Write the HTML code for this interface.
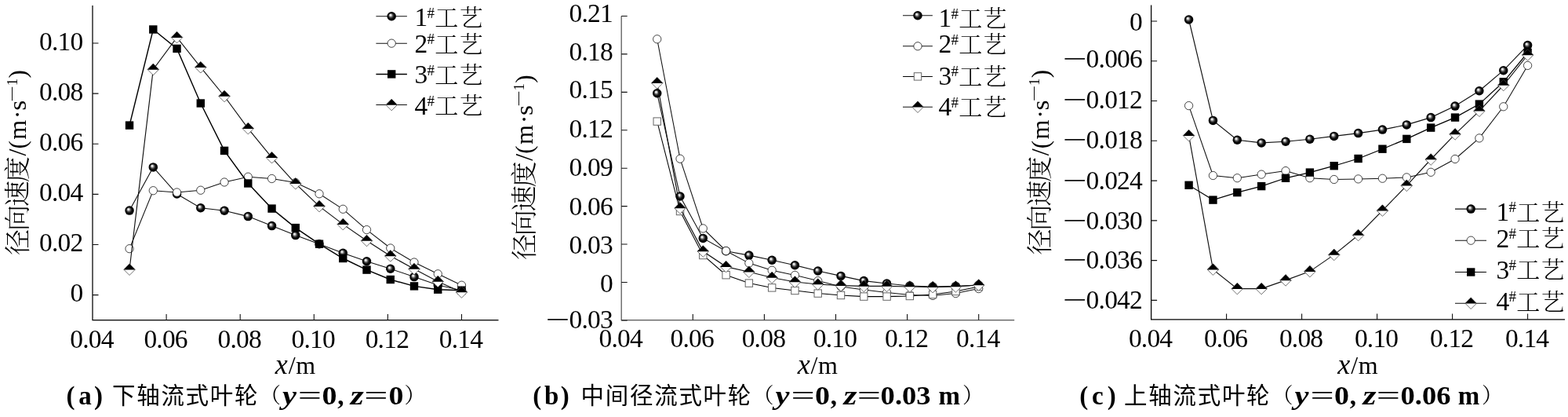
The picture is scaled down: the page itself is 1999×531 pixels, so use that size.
<!DOCTYPE html>
<html lang="zh"><head><meta charset="utf-8"><title>径向速度</title>
<style>
html,body{margin:0;padding:0;background:#fff}
svg{display:block}
.t{font-family:"Liberation Serif","Noto Serif CJK SC",serif;font-size:33.5px;fill:#000;font-style:normal;letter-spacing:-0.8px}
.u{font-family:"Liberation Serif","Noto Serif CJK SC",serif;font-size:31px;fill:#000}
.yl{font-family:"Liberation Serif","Noto Serif CJK SC",serif;font-size:33px;fill:#000;font-weight:300;letter-spacing:-2.1px}
.sup{font-family:"Liberation Serif","Noto Serif CJK SC",serif;font-size:19px;fill:#000;font-weight:400;letter-spacing:0}
.lg{font-family:"Liberation Serif","Noto Serif CJK SC",serif;font-size:30px;font-weight:300;letter-spacing:1.4px}
.cb{font-family:"Liberation Serif","Noto Serif CJK SC",serif;font-weight:700;font-size:33px}
.ce{font-family:"Liberation Serif","Noto Serif CJK SC",serif;font-weight:400;font-size:33px}
.ci{font-family:"Liberation Serif","Noto Serif CJK SC",serif;font-weight:700;font-style:italic;font-size:34px}
.cc{font-family:"Liberation Sans","Noto Sans CJK SC",sans-serif;font-weight:400;font-size:29.5px;letter-spacing:1.7px}
.cp{font-family:"Noto Serif CJK SC",serif;font-weight:400;font-size:27px}
</style></head><body>
<svg width="1999" height="531" viewBox="0 0 1999 531">
<defs><radialGradient id="sph" cx="0.5" cy="0.5" r="0.5" fx="0.36" fy="0.34">
<stop offset="0" stop-color="#fff"/><stop offset="0.16" stop-color="#e4e4e4"/><stop offset="0.42" stop-color="#555"/><stop offset="0.66" stop-color="#080808"/><stop offset="1" stop-color="#000"/></radialGradient></defs>
<rect width="1999" height="531" fill="#fff"/>
<g>
<path d="M118 7V407.6H635.5" fill="none" stroke="#000" stroke-width="1.25"/>
<path d="M212.1 407.6v-7.5M306.2 407.6v-7.5M400.3 407.6v-7.5M494.4 407.6v-7.5M588.5 407.6v-7.5M118 375.6h7.5M118 311.48h7.5M118 247.36h7.5M118 183.24h7.5M118 119.12h7.5M118 55h7.5" fill="none" stroke="#111" stroke-width="1.1"/>
<text x="117" y="443.0" text-anchor="middle" class="t">0.04</text>
<text x="211.1" y="443.0" text-anchor="middle" class="t">0.06</text>
<text x="305.2" y="443.0" text-anchor="middle" class="t">0.08</text>
<text x="399.3" y="443.0" text-anchor="middle" class="t">0.10</text>
<text x="493.4" y="443.0" text-anchor="middle" class="t">0.12</text>
<text x="587.5" y="443.0" text-anchor="middle" class="t">0.14</text>
<text x="105.5" y="384" text-anchor="end" class="t">0</text>
<text x="105.5" y="320.1" text-anchor="end" class="t">0.02</text>
<text x="105.5" y="256.1" text-anchor="end" class="t">0.04</text>
<text x="105.5" y="192.1" text-anchor="end" class="t">0.06</text>
<text x="105.5" y="128.2" text-anchor="end" class="t">0.08</text>
<text x="105.5" y="64.3" text-anchor="end" class="t">0.10</text>
<text y="476" class="t" style="letter-spacing:0"><tspan x="350.75" font-style="italic" font-size="36">x</tspan><tspan x="367.65" font-size="32">/</tspan><tspan x="377.15" font-size="32">m</tspan></text>
<g transform="translate(33.3 324) rotate(-90)"><text x="-0.9" y="0.5" class="yl">径向速度</text><text x="125.4" y="0" class="u" style="font-size:32px">/</text><text x="134.5" y="0" class="u">(</text><text x="146.3" y="0" class="u" style="font-size:32px">m</text><text x="173.1" y="0" class="u">·</text><text x="183.3" y="0" class="u" textLength="13" lengthAdjust="spacingAndGlyphs">s</text><text x="194.1" y="-11.5" class="sup" textLength="21" lengthAdjust="spacingAndGlyphs">−</text><text x="214.7" y="-11.5" class="sup">1</text><text x="224.5" y="0" class="u">)</text></g>
<polyline points="165.05,268.1 195.3,212.9 225.54,247 255.79,264.8 286.04,268.3 316.28,275.6 346.53,287.6 376.77,299.6 407.02,310.7 437.27,322.2 467.51,332.8 497.76,342.3 528.01,352.6 558.25,363 588.5,369.7" fill="none" stroke="#111" stroke-width="1.1"/>
<circle cx="165.05" cy="268.1" r="5.75" fill="url(#sph)"/><circle cx="195.3" cy="212.9" r="5.75" fill="url(#sph)"/><circle cx="225.54" cy="247" r="5.75" fill="url(#sph)"/><circle cx="255.79" cy="264.8" r="5.75" fill="url(#sph)"/><circle cx="286.04" cy="268.3" r="5.75" fill="url(#sph)"/><circle cx="316.28" cy="275.6" r="5.75" fill="url(#sph)"/><circle cx="346.53" cy="287.6" r="5.75" fill="url(#sph)"/><circle cx="376.77" cy="299.6" r="5.75" fill="url(#sph)"/><circle cx="407.02" cy="310.7" r="5.75" fill="url(#sph)"/><circle cx="437.27" cy="322.2" r="5.75" fill="url(#sph)"/><circle cx="467.51" cy="332.8" r="5.75" fill="url(#sph)"/><circle cx="497.76" cy="342.3" r="5.75" fill="url(#sph)"/><circle cx="528.01" cy="352.6" r="5.75" fill="url(#sph)"/><circle cx="558.25" cy="363" r="5.75" fill="url(#sph)"/><circle cx="588.5" cy="369.7" r="5.75" fill="url(#sph)"/>
<polyline points="165.05,316.7 195.3,242.7 225.54,245 255.79,242.2 286.04,232 316.28,225.2 346.53,227.5 376.77,232.5 407.02,246.8 437.27,266.3 467.51,292.6 497.76,316 528.01,334 558.25,348.8 588.5,363.2" fill="none" stroke="#111" stroke-width="1.05"/>
<circle cx="165.05" cy="316.7" r="5.15" fill="#fff" stroke="#111" stroke-width="0.78"/><circle cx="195.3" cy="242.7" r="5.15" fill="#fff" stroke="#111" stroke-width="0.78"/><circle cx="225.54" cy="245" r="5.15" fill="#fff" stroke="#111" stroke-width="0.78"/><circle cx="255.79" cy="242.2" r="5.15" fill="#fff" stroke="#111" stroke-width="0.78"/><circle cx="286.04" cy="232" r="5.15" fill="#fff" stroke="#111" stroke-width="0.78"/><circle cx="316.28" cy="225.2" r="5.15" fill="#fff" stroke="#111" stroke-width="0.78"/><circle cx="346.53" cy="227.5" r="5.15" fill="#fff" stroke="#111" stroke-width="0.78"/><circle cx="376.77" cy="232.5" r="5.15" fill="#fff" stroke="#111" stroke-width="0.78"/><circle cx="407.02" cy="246.8" r="5.15" fill="#fff" stroke="#111" stroke-width="0.78"/><circle cx="437.27" cy="266.3" r="5.15" fill="#fff" stroke="#111" stroke-width="0.78"/><circle cx="467.51" cy="292.6" r="5.15" fill="#fff" stroke="#111" stroke-width="0.78"/><circle cx="497.76" cy="316" r="5.15" fill="#fff" stroke="#111" stroke-width="0.78"/><circle cx="528.01" cy="334" r="5.15" fill="#fff" stroke="#111" stroke-width="0.78"/><circle cx="558.25" cy="348.8" r="5.15" fill="#fff" stroke="#111" stroke-width="0.78"/><circle cx="588.5" cy="363.2" r="5.15" fill="#fff" stroke="#111" stroke-width="0.78"/>
<polyline points="165.05,159.6 195.3,37.5 225.54,61.9 255.79,131.5 286.04,191.9 316.28,233.5 346.53,265.6 376.77,290.1 407.02,310.7 437.27,329 467.51,343.6 497.76,356 528.01,364.4 558.25,368.7 588.5,369.7" fill="none" stroke="#000" stroke-width="1.45"/>
<rect x="159.85" y="154.4" width="10.4" height="10.4" fill="#000"/><rect x="190.1" y="32.3" width="10.4" height="10.4" fill="#000"/><rect x="220.34" y="56.7" width="10.4" height="10.4" fill="#000"/><rect x="250.59" y="126.3" width="10.4" height="10.4" fill="#000"/><rect x="280.84" y="186.7" width="10.4" height="10.4" fill="#000"/><rect x="311.08" y="228.3" width="10.4" height="10.4" fill="#000"/><rect x="341.33" y="260.4" width="10.4" height="10.4" fill="#000"/><rect x="371.57" y="284.9" width="10.4" height="10.4" fill="#000"/><rect x="401.82" y="305.5" width="10.4" height="10.4" fill="#000"/><rect x="432.07" y="323.8" width="10.4" height="10.4" fill="#000"/><rect x="462.31" y="338.4" width="10.4" height="10.4" fill="#000"/><rect x="492.56" y="350.8" width="10.4" height="10.4" fill="#000"/><rect x="522.81" y="359.2" width="10.4" height="10.4" fill="#000"/><rect x="553.05" y="363.5" width="10.4" height="10.4" fill="#000"/><rect x="583.3" y="364.5" width="10.4" height="10.4" fill="#000"/>
<polyline points="165.05,343.2 195.3,88.4 225.54,47.6 255.79,85.7 286.04,122.5 316.28,163.6 346.53,200.7 376.77,233.8 407.02,262.6 437.27,285.6 467.51,306.5 497.76,325.9 528.01,342.5 558.25,358.5 588.5,372" fill="none" stroke="#111" stroke-width="1.15"/>
<path d="M157.75 343.2L165.05 335.9L172.35 343.2L165.05 350.5Z" fill="#fff" stroke="#222" stroke-width="0.65"/><path d="M157.75 343.5L165.05 335.9L172.35 343.5Z" fill="#000"/><path d="M188 88.4L195.3 81.1L202.6 88.4L195.3 95.7Z" fill="#fff" stroke="#222" stroke-width="0.65"/><path d="M188 88.7L195.3 81.1L202.6 88.7Z" fill="#000"/><path d="M218.24 47.6L225.54 40.3L232.84 47.6L225.54 54.9Z" fill="#fff" stroke="#222" stroke-width="0.65"/><path d="M218.24 47.9L225.54 40.3L232.84 47.9Z" fill="#000"/><path d="M248.49 85.7L255.79 78.4L263.09 85.7L255.79 93Z" fill="#fff" stroke="#222" stroke-width="0.65"/><path d="M248.49 86L255.79 78.4L263.09 86Z" fill="#000"/><path d="M278.74 122.5L286.04 115.2L293.34 122.5L286.04 129.8Z" fill="#fff" stroke="#222" stroke-width="0.65"/><path d="M278.74 122.8L286.04 115.2L293.34 122.8Z" fill="#000"/><path d="M308.98 163.6L316.28 156.3L323.58 163.6L316.28 170.9Z" fill="#fff" stroke="#222" stroke-width="0.65"/><path d="M308.98 163.9L316.28 156.3L323.58 163.9Z" fill="#000"/><path d="M339.23 200.7L346.53 193.4L353.83 200.7L346.53 208Z" fill="#fff" stroke="#222" stroke-width="0.65"/><path d="M339.23 201L346.53 193.4L353.83 201Z" fill="#000"/><path d="M369.47 233.8L376.77 226.5L384.07 233.8L376.77 241.1Z" fill="#fff" stroke="#222" stroke-width="0.65"/><path d="M369.47 234.1L376.77 226.5L384.07 234.1Z" fill="#000"/><path d="M399.72 262.6L407.02 255.3L414.32 262.6L407.02 269.9Z" fill="#fff" stroke="#222" stroke-width="0.65"/><path d="M399.72 262.9L407.02 255.3L414.32 262.9Z" fill="#000"/><path d="M429.97 285.6L437.27 278.3L444.57 285.6L437.27 292.9Z" fill="#fff" stroke="#222" stroke-width="0.65"/><path d="M429.97 285.9L437.27 278.3L444.57 285.9Z" fill="#000"/><path d="M460.21 306.5L467.51 299.2L474.81 306.5L467.51 313.8Z" fill="#fff" stroke="#222" stroke-width="0.65"/><path d="M460.21 306.8L467.51 299.2L474.81 306.8Z" fill="#000"/><path d="M490.46 325.9L497.76 318.6L505.06 325.9L497.76 333.2Z" fill="#fff" stroke="#222" stroke-width="0.65"/><path d="M490.46 326.2L497.76 318.6L505.06 326.2Z" fill="#000"/><path d="M520.71 342.5L528.01 335.2L535.31 342.5L528.01 349.8Z" fill="#fff" stroke="#222" stroke-width="0.65"/><path d="M520.71 342.8L528.01 335.2L535.31 342.8Z" fill="#000"/><path d="M550.95 358.5L558.25 351.2L565.55 358.5L558.25 365.8Z" fill="#fff" stroke="#222" stroke-width="0.65"/><path d="M550.95 358.8L558.25 351.2L565.55 358.8Z" fill="#000"/><path d="M581.2 372L588.5 364.7L595.8 372L588.5 379.3Z" fill="#fff" stroke="#222" stroke-width="0.65"/><path d="M581.2 372.3L588.5 364.7L595.8 372.3Z" fill="#000"/>
<path d="M479.4 20.8H518.9" stroke="#111" stroke-width="1.1"/>
<circle cx="499.2" cy="20.8" r="5.75" fill="url(#sph)"/>
<text y="33.2" class="t"><tspan x="528.5">1</tspan><tspan class="sup" x="544.6" dy="-10.5">#</tspan><tspan class="lg" x="554.3" dy="10.2">工艺</tspan></text>
<path d="M479.4 55.15H518.9" stroke="#111" stroke-width="1.05"/>
<circle cx="499.2" cy="55.15" r="5.15" fill="#fff" stroke="#111" stroke-width="0.78"/>
<text y="66.9" class="t"><tspan x="528.5">2</tspan><tspan class="sup" x="544.6" dy="-10.5">#</tspan><tspan class="lg" x="554.3" dy="10.2">工艺</tspan></text>
<path d="M479.4 94.4H518.9" stroke="#000" stroke-width="1.45"/>
<rect x="494" y="89.2" width="10.4" height="10.4" fill="#000"/>
<text y="106.4" class="t"><tspan x="528.5">3</tspan><tspan class="sup" x="544.6" dy="-10.5">#</tspan><tspan class="lg" x="554.3" dy="10.2">工艺</tspan></text>
<path d="M479.4 133.5H518.9" stroke="#111" stroke-width="1.15"/>
<path d="M491.9 133.5L499.2 126.2L506.5 133.5L499.2 140.8Z" fill="#fff" stroke="#222" stroke-width="0.65"/><path d="M491.9 133.8L499.2 126.2L506.5 133.8Z" fill="#000"/>
<text y="145.7" class="t"><tspan x="528.5">4</tspan><tspan class="sup" x="544.6" dy="-10.5">#</tspan><tspan class="lg" x="554.3" dy="10.2">工艺</tspan></text>
</g>
<g>
<path d="M792.2 20.4V407.5H1293.2" fill="none" stroke="#555" stroke-width="1.25"/>
<path d="M883.3 407.5v-7.5M974.4 407.5v-7.5M1065.5 407.5v-7.5M1156.6 407.5v-7.5M1247.7 407.5v-7.5M792.2 407.94h7.5M792.2 359.5h7.5M792.2 311.06h7.5M792.2 262.63h7.5M792.2 214.19h7.5M792.2 165.76h7.5M792.2 117.33h7.5M792.2 68.89h7.5M792.2 20.46h7.5" fill="none" stroke="#111" stroke-width="1.1"/>
<text x="791.2" y="442.1" text-anchor="middle" class="t">0.04</text>
<text x="882.3" y="442.1" text-anchor="middle" class="t">0.06</text>
<text x="973.4" y="442.1" text-anchor="middle" class="t">0.08</text>
<text x="1064.5" y="442.1" text-anchor="middle" class="t">0.10</text>
<text x="1155.6" y="442.1" text-anchor="middle" class="t">0.12</text>
<text x="1246.7" y="442.1" text-anchor="middle" class="t">0.14</text>
<text x="781" y="418.2" text-anchor="end" class="t">0.03</text>
<text x="695.7" y="418.2" class="t" textLength="29.7" lengthAdjust="spacingAndGlyphs">−</text>
<text x="781" y="371.8" text-anchor="end" class="t">0</text>
<text x="781" y="322.9" text-anchor="end" class="t">0.03</text>
<text x="781" y="273.5" text-anchor="end" class="t">0.06</text>
<text x="781" y="224.1" text-anchor="end" class="t">0.09</text>
<text x="781" y="174.7" text-anchor="end" class="t">0.12</text>
<text x="781" y="125.3" text-anchor="end" class="t">0.15</text>
<text x="781" y="76.9" text-anchor="end" class="t">0.18</text>
<text x="781" y="27.6" text-anchor="end" class="t">0.21</text>
<text y="476" class="t" style="letter-spacing:0"><tspan x="1016.7" font-style="italic" font-size="36">x</tspan><tspan x="1033.6" font-size="32">/</tspan><tspan x="1043.1" font-size="32">m</tspan></text>
<g transform="translate(679.3 330.2) rotate(-90)"><text x="-0.9" y="0.5" class="yl">径向速度</text><text x="125.4" y="0" class="u" style="font-size:32px">/</text><text x="134.5" y="0" class="u">(</text><text x="146.3" y="0" class="u" style="font-size:32px">m</text><text x="173.1" y="0" class="u">·</text><text x="183.3" y="0" class="u" textLength="13" lengthAdjust="spacingAndGlyphs">s</text><text x="194.1" y="-11.5" class="sup" textLength="21" lengthAdjust="spacingAndGlyphs">−</text><text x="214.7" y="-11.5" class="sup">1</text><text x="224.5" y="0" class="u">)</text></g>
<polyline points="837.75,118.8 867.03,250 896.31,303.4 925.6,319.8 954.88,325.1 984.16,331.3 1013.44,337.8 1042.73,345 1072.01,351.4 1101.29,357.6 1130.57,361 1159.85,364 1189.14,365 1218.42,364.4 1247.7,363" fill="none" stroke="#111" stroke-width="1.1"/>
<circle cx="837.75" cy="118.8" r="5.75" fill="url(#sph)"/><circle cx="867.03" cy="250" r="5.75" fill="url(#sph)"/><circle cx="896.31" cy="303.4" r="5.75" fill="url(#sph)"/><circle cx="925.6" cy="319.8" r="5.75" fill="url(#sph)"/><circle cx="954.88" cy="325.1" r="5.75" fill="url(#sph)"/><circle cx="984.16" cy="331.3" r="5.75" fill="url(#sph)"/><circle cx="1013.44" cy="337.8" r="5.75" fill="url(#sph)"/><circle cx="1042.73" cy="345" r="5.75" fill="url(#sph)"/><circle cx="1072.01" cy="351.4" r="5.75" fill="url(#sph)"/><circle cx="1101.29" cy="357.6" r="5.75" fill="url(#sph)"/><circle cx="1130.57" cy="361" r="5.75" fill="url(#sph)"/><circle cx="1159.85" cy="364" r="5.75" fill="url(#sph)"/><circle cx="1189.14" cy="365" r="5.75" fill="url(#sph)"/><circle cx="1218.42" cy="364.4" r="5.75" fill="url(#sph)"/><circle cx="1247.7" cy="363" r="5.75" fill="url(#sph)"/>
<polyline points="837.75,49.8 867.03,202.2 896.31,290.9 925.6,319.5 954.88,335.1 984.16,344.2 1013.44,350.4 1042.73,357.6 1072.01,365 1101.29,369 1130.57,372.4 1159.85,375.6 1189.14,376.4 1218.42,373.6 1247.7,367.6" fill="none" stroke="#111" stroke-width="1.05"/>
<circle cx="837.75" cy="49.8" r="5.15" fill="#fff" stroke="#111" stroke-width="0.78"/><circle cx="867.03" cy="202.2" r="5.15" fill="#fff" stroke="#111" stroke-width="0.78"/><circle cx="896.31" cy="290.9" r="5.15" fill="#fff" stroke="#111" stroke-width="0.78"/><circle cx="925.6" cy="319.5" r="5.15" fill="#fff" stroke="#111" stroke-width="0.78"/><circle cx="954.88" cy="335.1" r="5.15" fill="#fff" stroke="#111" stroke-width="0.78"/><circle cx="984.16" cy="344.2" r="5.15" fill="#fff" stroke="#111" stroke-width="0.78"/><circle cx="1013.44" cy="350.4" r="5.15" fill="#fff" stroke="#111" stroke-width="0.78"/><circle cx="1042.73" cy="357.6" r="5.15" fill="#fff" stroke="#111" stroke-width="0.78"/><circle cx="1072.01" cy="365" r="5.15" fill="#fff" stroke="#111" stroke-width="0.78"/><circle cx="1101.29" cy="369" r="5.15" fill="#fff" stroke="#111" stroke-width="0.78"/><circle cx="1130.57" cy="372.4" r="5.15" fill="#fff" stroke="#111" stroke-width="0.78"/><circle cx="1159.85" cy="375.6" r="5.15" fill="#fff" stroke="#111" stroke-width="0.78"/><circle cx="1189.14" cy="376.4" r="5.15" fill="#fff" stroke="#111" stroke-width="0.78"/><circle cx="1218.42" cy="373.6" r="5.15" fill="#fff" stroke="#111" stroke-width="0.78"/><circle cx="1247.7" cy="367.6" r="5.15" fill="#fff" stroke="#111" stroke-width="0.78"/>
<polyline points="837.75,154.6 867.03,269 896.31,325 925.6,350.2 954.88,360.6 984.16,366.4 1013.44,370 1042.73,373.6 1072.01,376 1101.29,377.6 1130.57,377.6 1159.85,377 1189.14,375 1218.42,371 1247.7,365" fill="none" stroke="#000" stroke-width="1.05"/>
<rect x="833.05" y="149.9" width="9.4" height="9.4" fill="#fff" stroke="#666" stroke-width="1"/><rect x="862.33" y="264.3" width="9.4" height="9.4" fill="#fff" stroke="#666" stroke-width="1"/><rect x="891.61" y="320.3" width="9.4" height="9.4" fill="#fff" stroke="#666" stroke-width="1"/><rect x="920.9" y="345.5" width="9.4" height="9.4" fill="#fff" stroke="#666" stroke-width="1"/><rect x="950.18" y="355.9" width="9.4" height="9.4" fill="#fff" stroke="#666" stroke-width="1"/><rect x="979.46" y="361.7" width="9.4" height="9.4" fill="#fff" stroke="#666" stroke-width="1"/><rect x="1008.74" y="365.3" width="9.4" height="9.4" fill="#fff" stroke="#666" stroke-width="1"/><rect x="1038.03" y="368.9" width="9.4" height="9.4" fill="#fff" stroke="#666" stroke-width="1"/><rect x="1067.31" y="371.3" width="9.4" height="9.4" fill="#fff" stroke="#666" stroke-width="1"/><rect x="1096.59" y="372.9" width="9.4" height="9.4" fill="#fff" stroke="#666" stroke-width="1"/><rect x="1125.87" y="372.9" width="9.4" height="9.4" fill="#fff" stroke="#666" stroke-width="1"/><rect x="1155.15" y="372.3" width="9.4" height="9.4" fill="#fff" stroke="#666" stroke-width="1"/><rect x="1184.44" y="370.3" width="9.4" height="9.4" fill="#fff" stroke="#666" stroke-width="1"/><rect x="1213.72" y="366.3" width="9.4" height="9.4" fill="#fff" stroke="#666" stroke-width="1"/><rect x="1243" y="360.3" width="9.4" height="9.4" fill="#fff" stroke="#666" stroke-width="1"/>
<polyline points="837.75,105.7 867.03,265 896.31,320 925.6,339.6 954.88,346.2 984.16,353.5 1013.44,359 1042.73,362 1072.01,363.6 1101.29,364.4 1130.57,364.4 1159.85,365 1189.14,365.6 1218.42,365 1247.7,363" fill="none" stroke="#111" stroke-width="1.15"/>
<path d="M830.45 105.7L837.75 98.4L845.05 105.7L837.75 113Z" fill="#fff" stroke="#222" stroke-width="0.65"/><path d="M830.45 106L837.75 98.4L845.05 106Z" fill="#000"/><path d="M859.73 265L867.03 257.7L874.33 265L867.03 272.3Z" fill="#fff" stroke="#222" stroke-width="0.65"/><path d="M859.73 265.3L867.03 257.7L874.33 265.3Z" fill="#000"/><path d="M889.01 320L896.31 312.7L903.61 320L896.31 327.3Z" fill="#fff" stroke="#222" stroke-width="0.65"/><path d="M889.01 320.3L896.31 312.7L903.61 320.3Z" fill="#000"/><path d="M918.3 339.6L925.6 332.3L932.9 339.6L925.6 346.9Z" fill="#fff" stroke="#222" stroke-width="0.65"/><path d="M918.3 339.9L925.6 332.3L932.9 339.9Z" fill="#000"/><path d="M947.58 346.2L954.88 338.9L962.18 346.2L954.88 353.5Z" fill="#fff" stroke="#222" stroke-width="0.65"/><path d="M947.58 346.5L954.88 338.9L962.18 346.5Z" fill="#000"/><path d="M976.86 353.5L984.16 346.2L991.46 353.5L984.16 360.8Z" fill="#fff" stroke="#222" stroke-width="0.65"/><path d="M976.86 353.8L984.16 346.2L991.46 353.8Z" fill="#000"/><path d="M1006.14 359L1013.44 351.7L1020.74 359L1013.44 366.3Z" fill="#fff" stroke="#222" stroke-width="0.65"/><path d="M1006.14 359.3L1013.44 351.7L1020.74 359.3Z" fill="#000"/><path d="M1035.43 362L1042.73 354.7L1050.03 362L1042.73 369.3Z" fill="#fff" stroke="#222" stroke-width="0.65"/><path d="M1035.43 362.3L1042.73 354.7L1050.03 362.3Z" fill="#000"/><path d="M1064.71 363.6L1072.01 356.3L1079.31 363.6L1072.01 370.9Z" fill="#fff" stroke="#222" stroke-width="0.65"/><path d="M1064.71 363.9L1072.01 356.3L1079.31 363.9Z" fill="#000"/><path d="M1093.99 364.4L1101.29 357.1L1108.59 364.4L1101.29 371.7Z" fill="#fff" stroke="#222" stroke-width="0.65"/><path d="M1093.99 364.7L1101.29 357.1L1108.59 364.7Z" fill="#000"/><path d="M1123.27 364.4L1130.57 357.1L1137.87 364.4L1130.57 371.7Z" fill="#fff" stroke="#222" stroke-width="0.65"/><path d="M1123.27 364.7L1130.57 357.1L1137.87 364.7Z" fill="#000"/><path d="M1152.55 365L1159.85 357.7L1167.15 365L1159.85 372.3Z" fill="#fff" stroke="#222" stroke-width="0.65"/><path d="M1152.55 365.3L1159.85 357.7L1167.15 365.3Z" fill="#000"/><path d="M1181.84 365.6L1189.14 358.3L1196.44 365.6L1189.14 372.9Z" fill="#fff" stroke="#222" stroke-width="0.65"/><path d="M1181.84 365.9L1189.14 358.3L1196.44 365.9Z" fill="#000"/><path d="M1211.12 365L1218.42 357.7L1225.72 365L1218.42 372.3Z" fill="#fff" stroke="#222" stroke-width="0.65"/><path d="M1211.12 365.3L1218.42 357.7L1225.72 365.3Z" fill="#000"/><path d="M1240.4 363L1247.7 355.7L1255 363L1247.7 370.3Z" fill="#fff" stroke="#222" stroke-width="0.65"/><path d="M1240.4 363.3L1247.7 355.7L1255 363.3Z" fill="#000"/>
<path d="M1151 19.8H1188.9" stroke="#111" stroke-width="1.1"/>
<circle cx="1170" cy="19.8" r="5.75" fill="url(#sph)"/>
<text y="34" class="t"><tspan x="1196.4">1</tspan><tspan class="sup" x="1212.5" dy="-10.5">#</tspan><tspan class="lg" x="1222.2" dy="10.2">工艺</tspan></text>
<path d="M1151 58.8H1188.9" stroke="#111" stroke-width="1.05"/>
<circle cx="1170" cy="58.8" r="5.15" fill="#fff" stroke="#111" stroke-width="0.78"/>
<text y="67.1" class="t"><tspan x="1196.4">2</tspan><tspan class="sup" x="1212.5" dy="-10.5">#</tspan><tspan class="lg" x="1222.2" dy="10.2">工艺</tspan></text>
<path d="M1151 97.4H1188.9" stroke="#000" stroke-width="1.05"/>
<rect x="1165.3" y="92.7" width="9.4" height="9.4" fill="#fff" stroke="#666" stroke-width="1"/>
<text y="107.9" class="t"><tspan x="1196.4">3</tspan><tspan class="sup" x="1212.5" dy="-10.5">#</tspan><tspan class="lg" x="1222.2" dy="10.2">工艺</tspan></text>
<path d="M1151 136.2H1188.9" stroke="#111" stroke-width="1.15"/>
<path d="M1162.7 136.2L1170 128.9L1177.3 136.2L1170 143.5Z" fill="#fff" stroke="#222" stroke-width="0.65"/><path d="M1162.7 136.5L1170 128.9L1177.3 136.5Z" fill="#000"/>
<text y="147" class="t"><tspan x="1196.4">4</tspan><tspan class="sup" x="1212.5" dy="-10.5">#</tspan><tspan class="lg" x="1222.2" dy="10.2">工艺</tspan></text>
</g>
<g>
<path d="M1467.6 6.4V406.9H1995" fill="none" stroke="#000" stroke-width="1.25"/>
<path d="M1563.6 406.9v-7.5M1659.6 406.9v-7.5M1755.6 406.9v-7.5M1851.6 406.9v-7.5M1947.6 406.9v-7.5M1467.6 27h7.5M1467.6 77.77h7.5M1467.6 128.54h7.5M1467.6 179.32h7.5M1467.6 230.09h7.5M1467.6 280.86h7.5M1467.6 331.63h7.5M1467.6 382.4h7.5" fill="none" stroke="#111" stroke-width="1.1"/>
<text x="1466.6" y="442.1" text-anchor="middle" class="t">0.04</text>
<text x="1562.6" y="442.1" text-anchor="middle" class="t">0.06</text>
<text x="1658.6" y="442.1" text-anchor="middle" class="t">0.08</text>
<text x="1754.6" y="442.1" text-anchor="middle" class="t">0.10</text>
<text x="1850.6" y="442.1" text-anchor="middle" class="t">0.12</text>
<text x="1946.6" y="442.1" text-anchor="middle" class="t">0.14</text>
<text x="1456" y="38.5" text-anchor="end" class="t">0</text>
<text x="1456" y="86.3" text-anchor="end" class="t">0.006</text>
<text x="1355.1" y="86.3" class="t" textLength="29.7" lengthAdjust="spacingAndGlyphs">−</text>
<text x="1456" y="137.5" text-anchor="end" class="t">0.012</text>
<text x="1355.1" y="137.5" class="t" textLength="29.7" lengthAdjust="spacingAndGlyphs">−</text>
<text x="1456" y="189" text-anchor="end" class="t">0.018</text>
<text x="1355.1" y="189" class="t" textLength="29.7" lengthAdjust="spacingAndGlyphs">−</text>
<text x="1456" y="240.6" text-anchor="end" class="t">0.024</text>
<text x="1355.1" y="240.6" class="t" textLength="29.7" lengthAdjust="spacingAndGlyphs">−</text>
<text x="1456" y="291.5" text-anchor="end" class="t">0.030</text>
<text x="1355.1" y="291.5" class="t" textLength="29.7" lengthAdjust="spacingAndGlyphs">−</text>
<text x="1456" y="342.3" text-anchor="end" class="t">0.036</text>
<text x="1355.1" y="342.3" class="t" textLength="29.7" lengthAdjust="spacingAndGlyphs">−</text>
<text x="1456" y="393.2" text-anchor="end" class="t">0.042</text>
<text x="1355.1" y="393.2" class="t" textLength="29.7" lengthAdjust="spacingAndGlyphs">−</text>
<text y="476" class="t" style="letter-spacing:0"><tspan x="1705.3" font-style="italic" font-size="36">x</tspan><tspan x="1722.2" font-size="32">/</tspan><tspan x="1731.7" font-size="32">m</tspan></text>
<g transform="translate(1336.8 323.7) rotate(-90)"><text x="-0.9" y="0.5" class="yl">径向速度</text><text x="125.4" y="0" class="u" style="font-size:32px">/</text><text x="134.5" y="0" class="u">(</text><text x="146.3" y="0" class="u" style="font-size:32px">m</text><text x="173.1" y="0" class="u">·</text><text x="183.3" y="0" class="u" textLength="13" lengthAdjust="spacingAndGlyphs">s</text><text x="194.1" y="-11.5" class="sup" textLength="21" lengthAdjust="spacingAndGlyphs">−</text><text x="214.7" y="-11.5" class="sup">1</text><text x="224.5" y="0" class="u">)</text></g>
<polyline points="1515.6,25 1546.46,153.4 1577.31,178.2 1608.17,181.9 1639.03,180.2 1669.89,177.2 1700.74,173.4 1731.6,169.6 1762.46,165.1 1793.31,158.9 1824.17,149.6 1855.03,135.1 1885.89,115.8 1916.74,89.7 1947.6,57.6" fill="none" stroke="#111" stroke-width="1.15"/>
<circle cx="1515.6" cy="25" r="5.75" fill="url(#sph)"/><circle cx="1546.46" cy="153.4" r="5.75" fill="url(#sph)"/><circle cx="1577.31" cy="178.2" r="5.75" fill="url(#sph)"/><circle cx="1608.17" cy="181.9" r="5.75" fill="url(#sph)"/><circle cx="1639.03" cy="180.2" r="5.75" fill="url(#sph)"/><circle cx="1669.89" cy="177.2" r="5.75" fill="url(#sph)"/><circle cx="1700.74" cy="173.4" r="5.75" fill="url(#sph)"/><circle cx="1731.6" cy="169.6" r="5.75" fill="url(#sph)"/><circle cx="1762.46" cy="165.1" r="5.75" fill="url(#sph)"/><circle cx="1793.31" cy="158.9" r="5.75" fill="url(#sph)"/><circle cx="1824.17" cy="149.6" r="5.75" fill="url(#sph)"/><circle cx="1855.03" cy="135.1" r="5.75" fill="url(#sph)"/><circle cx="1885.89" cy="115.8" r="5.75" fill="url(#sph)"/><circle cx="1916.74" cy="89.7" r="5.75" fill="url(#sph)"/><circle cx="1947.6" cy="57.6" r="5.75" fill="url(#sph)"/>
<polyline points="1515.6,134.6 1546.46,223.5 1577.31,226.7 1608.17,222.1 1639.03,217.6 1669.89,226.7 1700.74,228.5 1731.6,227.9 1762.46,227.2 1793.31,225.9 1824.17,219.3 1855.03,202.5 1885.89,175.9 1916.74,135.8 1947.6,83.4" fill="none" stroke="#111" stroke-width="1.05"/>
<circle cx="1515.6" cy="134.6" r="5.15" fill="#fff" stroke="#111" stroke-width="0.78"/><circle cx="1546.46" cy="223.5" r="5.15" fill="#fff" stroke="#111" stroke-width="0.78"/><circle cx="1577.31" cy="226.7" r="5.15" fill="#fff" stroke="#111" stroke-width="0.78"/><circle cx="1608.17" cy="222.1" r="5.15" fill="#fff" stroke="#111" stroke-width="0.78"/><circle cx="1639.03" cy="217.6" r="5.15" fill="#fff" stroke="#111" stroke-width="0.78"/><circle cx="1669.89" cy="226.7" r="5.15" fill="#fff" stroke="#111" stroke-width="0.78"/><circle cx="1700.74" cy="228.5" r="5.15" fill="#fff" stroke="#111" stroke-width="0.78"/><circle cx="1731.6" cy="227.9" r="5.15" fill="#fff" stroke="#111" stroke-width="0.78"/><circle cx="1762.46" cy="227.2" r="5.15" fill="#fff" stroke="#111" stroke-width="0.78"/><circle cx="1793.31" cy="225.9" r="5.15" fill="#fff" stroke="#111" stroke-width="0.78"/><circle cx="1824.17" cy="219.3" r="5.15" fill="#fff" stroke="#111" stroke-width="0.78"/><circle cx="1855.03" cy="202.5" r="5.15" fill="#fff" stroke="#111" stroke-width="0.78"/><circle cx="1885.89" cy="175.9" r="5.15" fill="#fff" stroke="#111" stroke-width="0.78"/><circle cx="1916.74" cy="135.8" r="5.15" fill="#fff" stroke="#111" stroke-width="0.78"/><circle cx="1947.6" cy="83.4" r="5.15" fill="#fff" stroke="#111" stroke-width="0.78"/>
<polyline points="1515.6,235.8 1546.46,254.6 1577.31,245.1 1608.17,237.1 1639.03,226.8 1669.89,219.6 1700.74,211.2 1731.6,202 1762.46,189.7 1793.31,176.9 1824.17,162.6 1855.03,149.6 1885.89,132.6 1916.74,104.3 1947.6,67" fill="none" stroke="#000" stroke-width="1.2"/>
<rect x="1510.4" y="230.6" width="10.4" height="10.4" fill="#000"/><rect x="1541.26" y="249.4" width="10.4" height="10.4" fill="#000"/><rect x="1572.11" y="239.9" width="10.4" height="10.4" fill="#000"/><rect x="1602.97" y="231.9" width="10.4" height="10.4" fill="#000"/><rect x="1633.83" y="221.6" width="10.4" height="10.4" fill="#000"/><rect x="1664.69" y="214.4" width="10.4" height="10.4" fill="#000"/><rect x="1695.54" y="206" width="10.4" height="10.4" fill="#000"/><rect x="1726.4" y="196.8" width="10.4" height="10.4" fill="#000"/><rect x="1757.26" y="184.5" width="10.4" height="10.4" fill="#000"/><rect x="1788.11" y="171.7" width="10.4" height="10.4" fill="#000"/><rect x="1818.97" y="157.4" width="10.4" height="10.4" fill="#000"/><rect x="1849.83" y="144.4" width="10.4" height="10.4" fill="#000"/><rect x="1880.69" y="127.4" width="10.4" height="10.4" fill="#000"/><rect x="1911.54" y="99.1" width="10.4" height="10.4" fill="#000"/><rect x="1942.4" y="61.8" width="10.4" height="10.4" fill="#000"/>
<polyline points="1515.6,172.6 1546.46,343.1 1577.31,367.6 1608.17,367.6 1639.03,356.9 1669.89,345.6 1700.74,324.4 1731.6,299.5 1762.46,268.1 1793.31,236.3 1824.17,203 1855.03,170.9 1885.89,141.3 1916.74,108.5 1947.6,70" fill="none" stroke="#111" stroke-width="1.15"/>
<path d="M1508.3 172.6L1515.6 165.3L1522.9 172.6L1515.6 179.9Z" fill="#fff" stroke="#222" stroke-width="0.65"/><path d="M1508.3 172.9L1515.6 165.3L1522.9 172.9Z" fill="#000"/><path d="M1539.16 343.1L1546.46 335.8L1553.76 343.1L1546.46 350.4Z" fill="#fff" stroke="#222" stroke-width="0.65"/><path d="M1539.16 343.4L1546.46 335.8L1553.76 343.4Z" fill="#000"/><path d="M1570.01 367.6L1577.31 360.3L1584.61 367.6L1577.31 374.9Z" fill="#fff" stroke="#222" stroke-width="0.65"/><path d="M1570.01 367.9L1577.31 360.3L1584.61 367.9Z" fill="#000"/><path d="M1600.87 367.6L1608.17 360.3L1615.47 367.6L1608.17 374.9Z" fill="#fff" stroke="#222" stroke-width="0.65"/><path d="M1600.87 367.9L1608.17 360.3L1615.47 367.9Z" fill="#000"/><path d="M1631.73 356.9L1639.03 349.6L1646.33 356.9L1639.03 364.2Z" fill="#fff" stroke="#222" stroke-width="0.65"/><path d="M1631.73 357.2L1639.03 349.6L1646.33 357.2Z" fill="#000"/><path d="M1662.59 345.6L1669.89 338.3L1677.19 345.6L1669.89 352.9Z" fill="#fff" stroke="#222" stroke-width="0.65"/><path d="M1662.59 345.9L1669.89 338.3L1677.19 345.9Z" fill="#000"/><path d="M1693.44 324.4L1700.74 317.1L1708.04 324.4L1700.74 331.7Z" fill="#fff" stroke="#222" stroke-width="0.65"/><path d="M1693.44 324.7L1700.74 317.1L1708.04 324.7Z" fill="#000"/><path d="M1724.3 299.5L1731.6 292.2L1738.9 299.5L1731.6 306.8Z" fill="#fff" stroke="#222" stroke-width="0.65"/><path d="M1724.3 299.8L1731.6 292.2L1738.9 299.8Z" fill="#000"/><path d="M1755.16 268.1L1762.46 260.8L1769.76 268.1L1762.46 275.4Z" fill="#fff" stroke="#222" stroke-width="0.65"/><path d="M1755.16 268.4L1762.46 260.8L1769.76 268.4Z" fill="#000"/><path d="M1786.01 236.3L1793.31 229L1800.61 236.3L1793.31 243.6Z" fill="#fff" stroke="#222" stroke-width="0.65"/><path d="M1786.01 236.6L1793.31 229L1800.61 236.6Z" fill="#000"/><path d="M1816.87 203L1824.17 195.7L1831.47 203L1824.17 210.3Z" fill="#fff" stroke="#222" stroke-width="0.65"/><path d="M1816.87 203.3L1824.17 195.7L1831.47 203.3Z" fill="#000"/><path d="M1847.73 170.9L1855.03 163.6L1862.33 170.9L1855.03 178.2Z" fill="#fff" stroke="#222" stroke-width="0.65"/><path d="M1847.73 171.2L1855.03 163.6L1862.33 171.2Z" fill="#000"/><path d="M1878.59 141.3L1885.89 134L1893.19 141.3L1885.89 148.6Z" fill="#fff" stroke="#222" stroke-width="0.65"/><path d="M1878.59 141.6L1885.89 134L1893.19 141.6Z" fill="#000"/><path d="M1909.44 108.5L1916.74 101.2L1924.04 108.5L1916.74 115.8Z" fill="#fff" stroke="#222" stroke-width="0.65"/><path d="M1909.44 108.8L1916.74 101.2L1924.04 108.8Z" fill="#000"/><path d="M1940.3 70L1947.6 62.7L1954.9 70L1947.6 77.3Z" fill="#fff" stroke="#222" stroke-width="0.65"/><path d="M1940.3 70.3L1947.6 62.7L1954.9 70.3Z" fill="#000"/>
<path d="M1855 266.1H1895" stroke="#111" stroke-width="1.15"/>
<circle cx="1875.2" cy="266.1" r="5.75" fill="url(#sph)"/>
<text y="280.9" class="t"><tspan x="1907.5">1</tspan><tspan class="sup" x="1923.6" dy="-10.5">#</tspan><tspan class="lg" x="1933.3" dy="10.2">工艺</tspan></text>
<path d="M1855 306.2H1895" stroke="#111" stroke-width="1.05"/>
<circle cx="1875.2" cy="306.2" r="5.15" fill="#fff" stroke="#111" stroke-width="0.78"/>
<text y="314.5" class="t"><tspan x="1907.5">2</tspan><tspan class="sup" x="1923.6" dy="-10.5">#</tspan><tspan class="lg" x="1933.3" dy="10.2">工艺</tspan></text>
<path d="M1855 346.5H1895" stroke="#000" stroke-width="1.2"/>
<rect x="1870" y="341.3" width="10.4" height="10.4" fill="#000"/>
<text y="354.7" class="t"><tspan x="1907.5">3</tspan><tspan class="sup" x="1923.6" dy="-10.5">#</tspan><tspan class="lg" x="1933.3" dy="10.2">工艺</tspan></text>
<path d="M1855 386.2H1895" stroke="#111" stroke-width="1.15"/>
<path d="M1867.9 386.2L1875.2 378.9L1882.5 386.2L1875.2 393.5Z" fill="#fff" stroke="#222" stroke-width="0.65"/><path d="M1867.9 386.5L1875.2 378.9L1882.5 386.5Z" fill="#000"/>
<text y="394.8" class="t"><tspan x="1907.5">4</tspan><tspan class="sup" x="1923.6" dy="-10.5">#</tspan><tspan class="lg" x="1933.3" dy="10.2">工艺</tspan></text>
</g>
<text x="84.4" y="515.0" class="cb">(</text>
<text x="100.2" y="515.0" class="cb">a</text>
<text x="119.9" y="515.0" class="cb">)</text>
<text x="143" y="514.3" class="cc">下轴流式叶轮</text>
<text x="331" y="512.6" class="cp">（</text>
<text x="360" y="515.0" class="ci" textLength="18" lengthAdjust="spacingAndGlyphs">y</text>
<text x="379.8" y="515.0" class="ce" textLength="30.3" lengthAdjust="spacingAndGlyphs">=</text>
<text x="410.5" y="515.0" class="cb" textLength="19" lengthAdjust="spacingAndGlyphs">0</text>
<text x="430.2" y="515.0" class="cb">,</text>
<text x="446.8" y="515.0" class="ci" textLength="17" lengthAdjust="spacingAndGlyphs">z</text>
<text x="464.2" y="515.0" class="ce" textLength="30.3" lengthAdjust="spacingAndGlyphs">=</text>
<text x="495.5" y="515.0" class="cb" textLength="19" lengthAdjust="spacingAndGlyphs">0</text>
<text x="515.6" y="512.6" class="cp">）</text>
<text x="679.3" y="515.0" class="cb">(</text>
<text x="694.1" y="515.0" class="cb">b</text>
<text x="714.8" y="515.0" class="cb">)</text>
<text x="740.6" y="514.3" class="cc">中间径流式叶轮</text>
<text x="959.6" y="512.6" class="cp">（</text>
<text x="988.6" y="515.0" class="ci" textLength="18" lengthAdjust="spacingAndGlyphs">y</text>
<text x="1008.4" y="515.0" class="ce" textLength="30.3" lengthAdjust="spacingAndGlyphs">=</text>
<text x="1039.1" y="515.0" class="cb" textLength="19" lengthAdjust="spacingAndGlyphs">0</text>
<text x="1058.8" y="515.0" class="cb">,</text>
<text x="1075.4" y="515.0" class="ci" textLength="17" lengthAdjust="spacingAndGlyphs">z</text>
<text x="1092.8" y="515.0" class="ce" textLength="30.3" lengthAdjust="spacingAndGlyphs">=</text>
<text x="1122.6" y="515.0" class="cb" textLength="64" lengthAdjust="spacingAndGlyphs">0.03</text>
<text x="1196.6" y="515.0" class="cb">m</text>
<text x="1227" y="512.6" class="cp">）</text>
<text x="1376.3" y="515.0" class="cb">(</text>
<text x="1392.1" y="515.0" class="cb">c</text>
<text x="1411.8" y="515.0" class="cb">)</text>
<text x="1433.1" y="514.3" class="cc">上轴流式叶轮</text>
<text x="1621.6" y="512.6" class="cp">（</text>
<text x="1650.6" y="515.0" class="ci" textLength="18" lengthAdjust="spacingAndGlyphs">y</text>
<text x="1670.4" y="515.0" class="ce" textLength="30.3" lengthAdjust="spacingAndGlyphs">=</text>
<text x="1701.1" y="515.0" class="cb" textLength="19" lengthAdjust="spacingAndGlyphs">0</text>
<text x="1720.8" y="515.0" class="cb">,</text>
<text x="1737.4" y="515.0" class="ci" textLength="17" lengthAdjust="spacingAndGlyphs">z</text>
<text x="1754.8" y="515.0" class="ce" textLength="30.3" lengthAdjust="spacingAndGlyphs">=</text>
<text x="1785.5" y="515.0" class="cb" textLength="64" lengthAdjust="spacingAndGlyphs">0.06</text>
<text x="1858.8" y="515.0" class="cb">m</text>
<text x="1889.1" y="512.6" class="cp">）</text>
</svg>
</body></html>
